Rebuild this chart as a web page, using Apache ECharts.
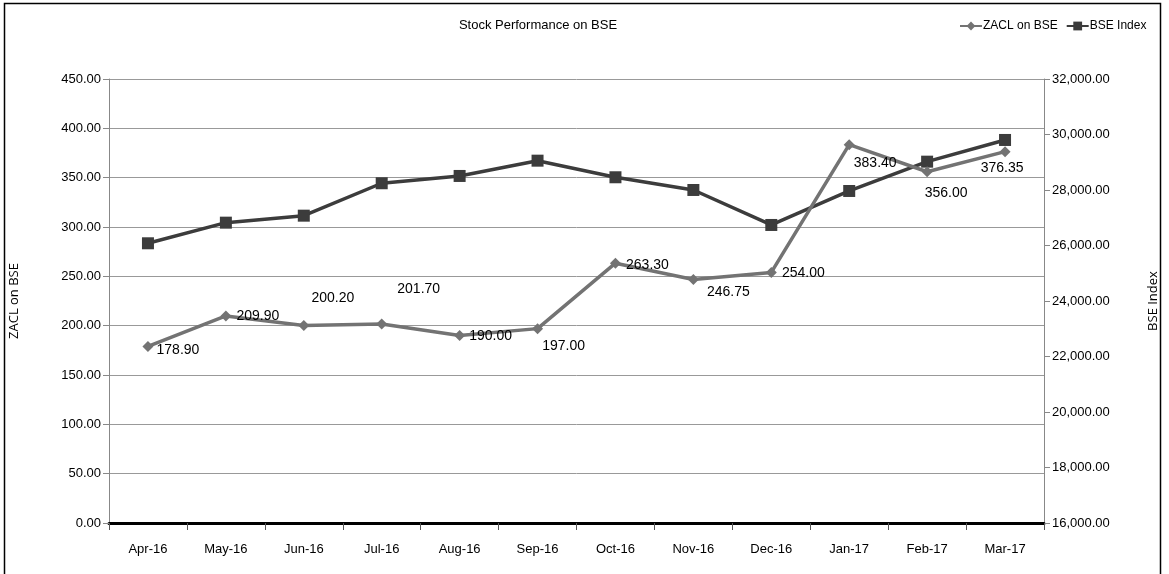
<!DOCTYPE html>
<html><head><meta charset="utf-8">
<script src="https://cdn.jsdelivr.net/npm/echarts@6/dist/echarts.min.js"></script>
<style>html,body{margin:0;padding:0;background:#fff}#c{width:1169px;height:574px}</style>
</head><body><div id="c"></div>
<script>
const categories = ['Apr-16','May-16','Jun-16','Jul-16','Aug-16','Sep-16','Oct-16','Nov-16','Dec-16','Jan-17','Feb-17','Mar-17'];
const zaclValues = [178.90, 209.90, 200.20, 201.70, 190.00, 197.00, 263.30, 246.75, 254.00, 383.40, 356.00, 376.35];
const bseValues = [26080, 26823, 27075, 28243, 28506, 29057, 28459, 28001, 26740, 27965, 29021, 29803];
const leftTicks = {min: 0, max: 450, interval: 50};
const rightTicks = {min: 16000, max: 32000, interval: 2000};

// label placement (layout only)
const labelOffsets = [[30,4],[32,0],[29,-27],[37,-35],[31,1],[26,18],[32,2],[35,13],[32,1],[26,18],[19,21],[-3,16]];

const FONT = "'Liberation Sans', Arial, sans-serif";
const chart = echarts.init(document.getElementById('c'), null, {renderer: 'canvas'});
const fmt2 = v => v.toFixed(2);
const fmtComma = v => v.toLocaleString('en-US', {minimumFractionDigits: 2, maximumFractionDigits: 2});

chart.setOption({
  backgroundColor: '#fff',
  animation: false,
  title: {
    text: 'Stock Performance on BSE', left: 533, top: 14, textAlign: 'center',
    textStyle: {fontFamily: FONT, fontSize: 13, fontWeight: 'normal', color: '#000'}
  },
  legend: {
    top: 15, left: 954, width: 210, itemGap: 8, itemWidth: 22, itemHeight: 11,
    textStyle: {fontFamily: FONT, fontSize: 12, color: '#000', padding: [0,0,0,-4]},
    data: ['ZACL on BSE', 'BSE Index']
  },
  graphic: [{
    type: 'rect', shape: {x: 4.5, y: 3.5, width: 1156, height: 580},
    style: {fill: 'none', stroke: '#000', lineWidth: 1.5}, silent: true
  }],
  grid: {left: 108, right: 125, top: 79, bottom: 51},
  xAxis: {
    type: 'category', data: categories, boundaryGap: true,
    axisLine: {onZero: false, lineStyle: {color: '#000', width: 3}},
    axisTick: {show: true, alignWithLabel: false, length: 7, lineStyle: {color: '#555', width: 1}},
    axisLabel: {fontFamily: FONT, fontSize: 13, color: '#000', margin: 20},
    splitLine: {show: false}
  },
  yAxis: [{
    type: 'value', min: leftTicks.min, max: leftTicks.max, interval: leftTicks.interval,
    name: 'ZACL on BSE', nameLocation: 'middle', nameGap: 88, nameRotate: 90,
    nameTextStyle: {fontFamily: "'Open Sans', 'DejaVu Sans', sans-serif", fontSize: 13, color: '#000'},
    axisLine: {show: true, lineStyle: {color: '#888', width: 1}},
    axisTick: {show: true, length: 6, inside: false, lineStyle: {color: '#888'}},
    axisLabel: {formatter: fmt2, fontFamily: FONT, fontSize: 13, color: '#000', margin: 8},
    splitLine: {show: true, lineStyle: {color: '#999', width: 1}}
  }, {
    type: 'value', min: rightTicks.min, max: rightTicks.max, interval: rightTicks.interval,
    name: 'BSE Index', nameLocation: 'middle', nameGap: 103, nameRotate: 90,
    nameTextStyle: {fontFamily: "'Open Sans', 'DejaVu Sans', sans-serif", fontSize: 13, color: '#000'},
    axisLine: {show: true, lineStyle: {color: '#888', width: 1}},
    axisTick: {show: true, length: 6, lineStyle: {color: '#888'}},
    axisLabel: {formatter: fmtComma, fontFamily: FONT, fontSize: 13, color: '#000', margin: 8},
    splitLine: {show: false}
  }],
  series: [{
    name: 'ZACL on BSE', type: 'line', yAxisIndex: 0, z: 3,
    data: zaclValues.map((v, i) => ({
      value: v,
      label: {show: true, position: 'inside', offset: labelOffsets[i], formatter: p => fmt2(p.value),
              fontFamily: FONT, fontSize: 14, color: '#000'}
    })),
    symbol: 'diamond', symbolSize: 11,
    lineStyle: {color: '#737373', width: 3.5},
    itemStyle: {color: '#737373'}
  }, {
    name: 'BSE Index', type: 'line', yAxisIndex: 1, z: 2,
    data: bseValues,
    symbol: 'rect', symbolSize: 12,
    lineStyle: {color: '#3c3c3c', width: 3.5},
    itemStyle: {color: '#3c3c3c'}
  }]
});
</script></body></html>
